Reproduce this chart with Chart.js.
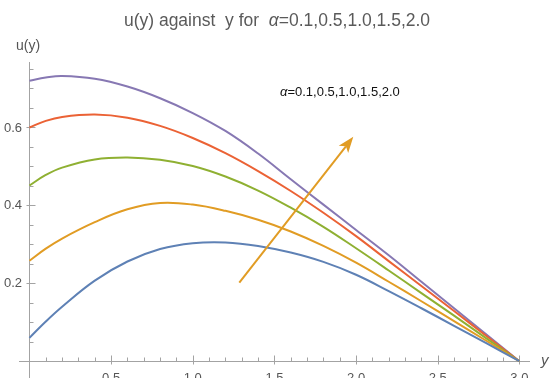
<!DOCTYPE html>
<html><head><meta charset="utf-8">
<script src="https://cdn.jsdelivr.net/npm/chart.js@4/dist/chart.umd.min.js"></script>
<style>html,body{margin:0;padding:0;background:#fff;overflow:hidden}#wrap{width:554px;height:378px}</style>
</head><body><div id="wrap"><canvas id="c" width="554" height="378"></canvas></div>
<script>
// ---- data ----
const yGrid = [0, 0.1, 0.2, 0.4, 0.6, 0.8, 1.0, 1.2, 1.4, 1.6, 1.8, 2.0, 2.2, 2.4, 2.6, 2.8, 3.0];
const alphaValues = ['0.1', '0.5', '1.0', '1.5', '2.0'];
const uAlpha01 = [0.060, 0.102, 0.140, 0.207, 0.256, 0.288, 0.303, 0.305, 0.296, 0.279, 0.255, 0.222, 0.180, 0.136, 0.091, 0.046, 0];
const uAlpha05 = [0.258, 0.289, 0.315, 0.357, 0.390, 0.406, 0.402, 0.386, 0.363, 0.333, 0.296, 0.253, 0.204, 0.154, 0.103, 0.052, 0];
const uAlpha10 = [0.451, 0.478, 0.497, 0.518, 0.523, 0.517, 0.501, 0.474, 0.438, 0.394, 0.345, 0.290, 0.233, 0.175, 0.117, 0.058, 0];
const uAlpha15 = [0.600, 0.617, 0.627, 0.633, 0.625, 0.604, 0.573, 0.534, 0.488, 0.437, 0.381, 0.321, 0.257, 0.193, 0.129, 0.064, 0];
const uAlpha20 = [0.720, 0.728, 0.732, 0.725, 0.705, 0.675, 0.637, 0.591, 0.533, 0.467, 0.402, 0.337, 0.272, 0.204, 0.136, 0.068, 0];
const seriesColors = ['#5E81B5', '#E19C24', '#8FB032', '#EB6235', '#8778B3'];
const xTickLabels = ['0.5', '1.0', '1.5', '2.0', '2.5', '3.0'];
const yTickLabels = ['0.2', '0.4', '0.6'];
const arrowStart = [1.285, 0.2015];
const arrowEnd = [1.983, 0.576];
const titleParts = ['u(y) against  y for  ', '\u03B1', '=0.1,0.5,1.0,1.5,2.0'];
const annotParts = ['\u03B1', '=0.1,0.5,1.0,1.5,2.0'];
const yAxisTitle = 'u(y)';
const xAxisTitle = 'y';

const FONT = '"Liberation Sans", Arial, sans-serif';
const allSeries = [uAlpha01, uAlpha05, uAlpha10, uAlpha15, uAlpha20];

const datasets = allSeries.map((vals, i) => ({
  label: '\u03B1=' + alphaValues[i],
  data: yGrid.map((g, j) => ({x: g, y: vals[j]})),
  borderColor: seriesColors[i],
  borderWidth: 2,
  pointRadius: 0,
  fill: false,
  tension: 0.4
}));

function drawParts(ctx, parts, italicIdx, x, y, size, color) {
  ctx.fillStyle = color;
  ctx.textBaseline = 'middle';
  ctx.textAlign = 'left';
  let cx = x;
  parts.forEach((p, i) => {
    ctx.font = (italicIdx.includes(i) ? 'italic ' : '') + size + 'px ' + FONT;
    ctx.fillText(p, cx, y);
    cx += ctx.measureText(p).width;
  });
}
function partsWidth(ctx, parts, italicIdx, size) {
  let w = 0;
  parts.forEach((p, i) => {
    ctx.font = (italicIdx.includes(i) ? 'italic ' : '') + size + 'px ' + FONT;
    w += ctx.measureText(p).width;
  });
  return w;
}

const axesPlugin = {
  id: 'mmaAxes',
  beforeDatasetsDraw(chart) {
    const {ctx, chartArea: a, scales: {x, y}} = chart;
    const x0 = Math.round(x.getPixelForValue(0)) + 0.5;
    const y0 = Math.round(y.getPixelForValue(0)) + 0.5;
    ctx.save();
    ctx.strokeStyle = '#a3a3a3';
    ctx.lineWidth = 1;
    ctx.beginPath();
    ctx.moveTo(a.left, y0); ctx.lineTo(a.right, y0);
    ctx.moveTo(x0, a.top); ctx.lineTo(x0, a.bottom);
    for (let i = 1; i <= 30; i++) {
      const px = Math.round(x.getPixelForValue(i / 10)) + 0.5;
      const major = i % 5 === 0;
      ctx.moveTo(px, y0 + (major ? 3 : 0));
      ctx.lineTo(px, y0 - (major ? 6 : 4));
    }
    for (let i = 1; i <= 15; i++) {
      const py = Math.round(y.getPixelForValue(i * 0.05)) + 0.5;
      const major = i % 4 === 0;
      ctx.moveTo(x0 - (major ? 3 : 0), py);
      ctx.lineTo(x0 + (major ? 6 : 4), py);
    }
    ctx.stroke();

    ctx.fillStyle = '#555';
    ctx.font = '13px ' + FONT;
    ctx.textAlign = 'center';
    ctx.textBaseline = 'alphabetic';
    xTickLabels.forEach(t => {
      ctx.fillText(t, x.getPixelForValue(parseFloat(t)), 382);
    });
    ctx.textAlign = 'right';
    ctx.textBaseline = 'middle';
    yTickLabels.forEach(t => {
      ctx.fillText(t, 22, y.getPixelForValue(parseFloat(t)) + 0.5);
    });
    ctx.textAlign = 'left';
    ctx.font = '14px ' + FONT;
    ctx.fillText(yAxisTitle, 16, 46);
    ctx.font = 'italic 15px ' + FONT;
    ctx.fillText(xAxisTitle, 541, 361);

    const tw = partsWidth(ctx, titleParts, [1], 17.5);
    drawParts(ctx, titleParts, [1], 277 - tw / 2, 21, 17.5, '#5a5a5a');
    ctx.restore();
  },
  afterDatasetsDraw(chart) {
    const {ctx, scales: {x, y}} = chart;
    const sx = x.getPixelForValue(arrowStart[0]), sy = y.getPixelForValue(arrowStart[1]);
    const ex = x.getPixelForValue(arrowEnd[0]), ey = y.getPixelForValue(arrowEnd[1]);
    const ang = Math.atan2(ey - sy, ex - sx);
    const L = 16, W = 6, notch = 4;
    ctx.save();
    ctx.strokeStyle = seriesColors[1];
    ctx.fillStyle = seriesColors[1];
    ctx.lineWidth = 2;
    ctx.beginPath();
    ctx.moveTo(sx, sy);
    ctx.lineTo(ex - Math.cos(ang) * (L - notch), ey - Math.sin(ang) * (L - notch));
    ctx.stroke();
    const bx = ex - Math.cos(ang) * L, by = ey - Math.sin(ang) * L;
    const nx = -Math.sin(ang), ny = Math.cos(ang);
    ctx.beginPath();
    ctx.moveTo(ex, ey);
    ctx.lineTo(bx + nx * W, by + ny * W);
    ctx.lineTo(ex - Math.cos(ang) * (L - notch), ey - Math.sin(ang) * (L - notch));
    ctx.lineTo(bx - nx * W, by - ny * W);
    ctx.closePath();
    ctx.fill();
    drawParts(ctx, annotParts, [0], 280, 92, 13, '#111');
    ctx.restore();
  }
};

new Chart(document.getElementById('c'), {
  type: 'line',
  data: {datasets},
  options: {
    responsive: false,
    animation: false,
    devicePixelRatio: 1,
    layout: {padding: {left: 19, right: 24, top: 62, bottom: 0}},
    plugins: {legend: {display: false}, title: {display: false}, tooltip: {enabled: false}},
    scales: {
      x: {type: 'linear', min: -0.064, max: 3.065, display: false},
      y: {type: 'linear', min: -0.043, max: 0.768, display: false}
    }
  },
  plugins: [axesPlugin]
});
</script></body></html>
